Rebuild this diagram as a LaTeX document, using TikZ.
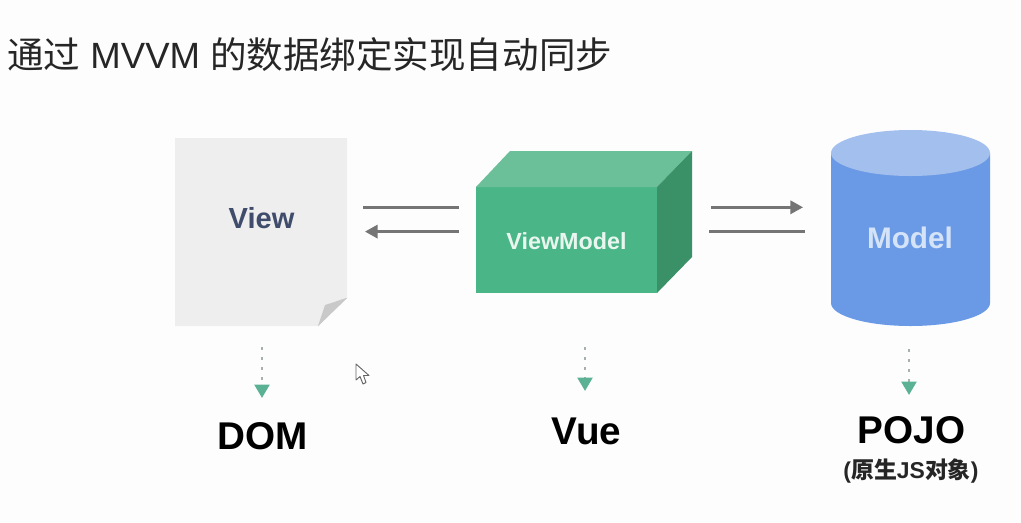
\documentclass[tikz,border=0pt]{standalone}
\usepackage{fontspec}
\setmainfont{Liberation Sans}
\newfontfamily\cjk{Noto Sans CJK SC}
\usetikzlibrary{arrows.meta}
\definecolor{bgc}{HTML}{FDFDFE}
\definecolor{paper}{HTML}{EEEEEF}
\definecolor{foldc}{HTML}{C9C9CA}
\definecolor{gfront}{HTML}{4AB586}
\definecolor{gtop}{HTML}{6BBF99}
\definecolor{gside}{HTML}{3A9168}
\definecolor{bbody}{HTML}{6A9AE6}
\definecolor{btop}{HTML}{A3BFEE}
\definecolor{arrowc}{HTML}{757575}
\definecolor{tipc}{HTML}{5BB193}
\definecolor{dotc}{HTML}{A8B0AC}
\definecolor{viewt}{HTML}{3F4C6B}
\tikzset{
  x=0.75pt,y=-0.75pt,
  plainline/.style={draw=arrowc,line width=1.9pt},
  headline/.style={plainline,-{Triangle[length=9.5pt,width=10pt]}},
  mapline/.style={draw=dotc,line width=2.2pt,dash pattern=on 2.2pt off 5.3pt,
    -{Triangle[length=10pt,width=11pt,color=tipc,fill=tipc,sep=0pt]}},
  bigl/.style={font=\bfseries\fontsize{29}{32}\selectfont,text=black,inner sep=0pt},
  inbox/.style={font=\bfseries\fontsize{#1}{24}\selectfont,inner sep=0pt},
  ghost/.style={inner sep=0pt,minimum size=0pt}
}
\begin{document}
\begin{tikzpicture}
\useasboundingbox (0,0) rectangle (1021,522);
\fill[bgc] (0,0) rectangle (1021,522);
% title
\node[anchor=west,inner sep=0pt,text=black!85,font=\fontsize{27.4}{30}\selectfont] (title) at (7,55)
  {{\cjk 通过} MVVM {\cjk 的数据绑定实现自动同步}};
% view page
\fill[paper] (175,138) -- (347,138) -- (347,298) -- (318,326) -- (175,326) -- cycle;
\fill[foldc] (347,298) .. controls (330,302) and (326,308) .. (318,326) -- cycle;
\fill[foldc] (347,298) -- (325,305) -- (318,326) -- cycle;
\node[inbox=21.8,text=viewt] (view) at (261.5,218) {View};
% box
\fill[gfront] (476,187) rectangle (657,293);
\fill[gtop] (476,187) -- (510,151) -- (692,151) -- (657,187) -- cycle;
\fill[gside] (657,187) -- (692,151) -- (692,257) -- (657,293) -- cycle;
\node[inbox=17.5,text=white!88!gfront] (vm) at (566.5,241) {ViewModel};
% cylinder
\fill[bbody] (831,153) -- (831,303) .. controls (831,315.7) and (866.6,326) .. (910.5,326)
  .. controls (954.4,326) and (990,315.7) .. (990,303) -- (990,153) -- cycle;
\fill[btop] (910.5,153) ellipse[x radius=79.5,y radius=23];
\node[inbox=22.3,text=white!72!bbody] (model) at (910,238) {Model};
% connector ends
\coordinate (vr1) at (363,207.3); \coordinate (vml1) at (459,207.3);
\coordinate (vr2) at (365,231.6); \coordinate (vml2) at (459,231.6);
\coordinate (vmr1) at (711,207.3); \coordinate (ml1) at (803,207.3);
\coordinate (vmr2) at (709,231.6); \coordinate (ml2) at (805,231.6);
\draw[plainline] (vr1) -- (vml1);
\draw[headline] (vml2) -- (vr2);
\draw[headline] (vmr1) -- (ml1);
\draw[plainline] (vmr2) -- (ml2);
% labels
\node[bigl] (dom) at (262.5,436) {DOM};
\node[bigl] (vue) at (586.5,431) {Vue};
\node[bigl] (pojo) at (911.5,430) {POJO};
\node[inbox=17.2,text=black!85] (pojosub) at (911,471) {({\cjk 原生}JS{\cjk 对象})};
% dotted connectors
\coordinate (d1) at (262,347); \coordinate (d1e) at (262,398);
\coordinate (d2) at (585,347); \coordinate (d2e) at (585,391);
\coordinate (d3) at (909,349); \coordinate (d3e) at (909,395);
\draw[mapline] (d1) -- (d1e);
\draw[mapline] (d2) -- (d2e);
\draw[mapline] (d3) -- (d3e);
% pointer
\draw[fill=white,draw=black!60,line width=0.7pt,line join=round]
  (356,364) -- (356,380) -- (360,376.5) -- (363,384) -- (366,382.5) -- (363.5,375.5) -- (369,375.5) -- cycle;
\end{tikzpicture}
\end{document}
